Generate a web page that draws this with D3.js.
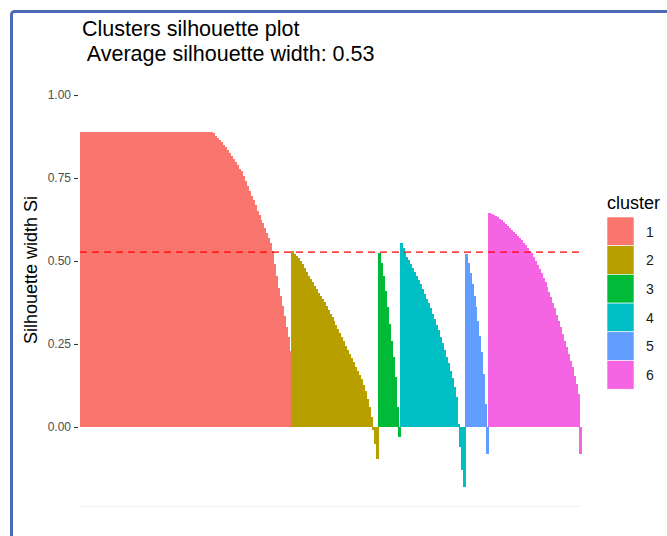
<!DOCTYPE html>
<html>
<head>
<meta charset="utf-8">
<script src="https://cdnjs.cloudflare.com/ajax/libs/d3/7.8.5/d3.min.js"></script>
<style>
    body { margin: 0; background: #fff; }
    svg { display: block; font-family: "Liberation Sans", Arial, sans-serif; }
</style>
</head>
<body>
<svg id="viz" width="667" height="536"></svg>
<script>
// Silhouette width of each observation, sorted inside each cluster
var cluster_1 = [
    0.89, 0.89, 0.89, 0.89, 0.89, 0.89, 0.89, 0.89, 0.89, 0.89,
    0.89, 0.89, 0.89, 0.89, 0.89, 0.89, 0.89, 0.89, 0.89, 0.89,
    0.89, 0.89, 0.89, 0.89, 0.89, 0.89, 0.89, 0.89, 0.89, 0.89,
    0.89, 0.89, 0.89, 0.89, 0.89, 0.89, 0.89, 0.89, 0.89, 0.89,
    0.89, 0.89, 0.89, 0.89, 0.89, 0.89, 0.89, 0.89, 0.89, 0.89,
    0.89, 0.89, 0.89, 0.89, 0.89, 0.89, 0.89, 0.89, 0.89, 0.89,
    0.89, 0.89, 0.89, 0.89, 0.89, 0.89,
    0.89, 0.885, 0.878, 0.87, 0.864, 0.857, 0.85, 0.843, 0.835, 0.826,
    0.816, 0.807, 0.798, 0.788, 0.778, 0.77, 0.755, 0.74, 0.725, 0.71,
    0.695, 0.685, 0.668, 0.652, 0.64, 0.625, 0.614, 0.598, 0.583, 0.568,
    0.554, 0.53, 0.49, 0.455, 0.42, 0.395, 0.365, 0.335, 0.3, 0.27, 0.23
];
var cluster_2 = [
    0.53, 0.52, 0.515, 0.508, 0.5, 0.49, 0.478, 0.466, 0.455, 0.445,
    0.436, 0.426, 0.416, 0.405, 0.395, 0.386, 0.376, 0.365, 0.353, 0.341,
    0.33, 0.318, 0.306, 0.294, 0.282, 0.27, 0.258, 0.245, 0.232, 0.22,
    0.207, 0.195, 0.182, 0.17, 0.157, 0.145, 0.128, 0.108, 0.085, 0.06,
    0.03, -0.01, -0.05, -0.095
];
var cluster_3 = [0.525, 0.495, 0.455, 0.41, 0.36, 0.31, 0.26, 0.21, 0.15, 0.06, -0.03];
var cluster_4 = [
    0.555, 0.54, 0.525, 0.512, 0.503, 0.49, 0.478, 0.466, 0.454, 0.443,
    0.43, 0.415, 0.4, 0.387, 0.373, 0.357, 0.341, 0.325, 0.308, 0.292,
    0.272, 0.252, 0.232, 0.212, 0.193, 0.17, 0.147, 0.12, 0.09, 0.01,
    -0.06, -0.13, -0.18
];
var cluster_5 = [0.52, 0.495, 0.465, 0.43, 0.395, 0.36, 0.32, 0.275, 0.225, 0.16, 0.07, -0.08];
var cluster_6 = [
    0.645, 0.643, 0.64, 0.636, 0.632, 0.627, 0.622, 0.617, 0.611, 0.605,
    0.599, 0.593, 0.587, 0.581, 0.575, 0.569, 0.562, 0.555, 0.547, 0.539,
    0.531, 0.523, 0.512, 0.5, 0.488, 0.476, 0.464, 0.45, 0.436, 0.421,
    0.406, 0.392, 0.375, 0.357, 0.338, 0.319, 0.3, 0.28, 0.26, 0.24,
    0.22, 0.2, 0.18, 0.155, 0.13, 0.1, -0.08
];

var cluster_names = ["1", "2", "3", "4", "5", "6"];
var cluster_colors = ["#F8766D", "#B79F00", "#00BA38", "#00BFC4", "#619CFF", "#F564E3"];
var y_ticks = [0, 0.25, 0.5, 0.75, 1];
var average_width = 0.527;

var plot_title = "Clusters silhouette plot";
var plot_subtitle = " Average silhouette width: 0.53";
var y_title = "Silhouette width Si";


function collect_observations() {
    var all_clusters = [cluster_1, cluster_2, cluster_3, cluster_4, cluster_5, cluster_6];
    var observations = [];

    all_clusters.forEach(function (values, index) {
        values.forEach(function (value) {
            observations.push({
                "id": observations.length,
                "cluster": cluster_names[index],
                "width": value
            });
        });
    });

    return observations;
}


function draw_chart(observations) {
    var svg = d3.select("#viz");

    var left = 80, right = 581, top = 95, bottom = 427;

    // frame of the screenshot (blue border on top and left)
    svg.append("rect")
        .attr("x", 11.5).attr("y", 11.5)
        .attr("width", 700).attr("height", 600)
        .attr("rx", 3)
        .attr("fill", "none")
        .attr("stroke", "#4c6ab4")
        .attr("stroke-width", 3);

    var x = d3.scaleBand()
        .domain(observations.map(function (d) { return d.id; }))
        .range([left, right])
        .padding(0);

    var y = d3.scaleLinear()
        .domain([0, 1])
        .range([bottom, top]);

    var color = d3.scaleOrdinal()
        .domain(cluster_names)
        .range(cluster_colors);

    // faint bottom line of the panel
    svg.append("line")
        .attr("x1", left).attr("x2", right)
        .attr("y1", y(-0.238) + 0.5).attr("y2", y(-0.238) + 0.5)
        .attr("stroke", "#f2f2f2");

    // crisp edges + 1px overlap so neighbouring bars show no seams
    svg.append("g")
        .attr("shape-rendering", "crispEdges")
        .selectAll("rect")
        .data(observations)
        .enter().append("rect")
        .attr("x", function (d) { return Math.round(x(d.id)); })
        .attr("width", Math.ceil(x.bandwidth()) + 1)
        .attr("y", function (d) { return Math.min(y(d.width), y(0)); })
        .attr("height", function (d) { return Math.abs(y(d.width) - y(0)); })
        .attr("fill", function (d) { return color(d.cluster); });

    // average silhouette width
    svg.append("line")
        .attr("x1", left).attr("x2", right)
        .attr("y1", y(average_width)).attr("y2", y(average_width))
        .attr("stroke", "#FF0000")
        .attr("stroke-width", 1.3)
        .attr("stroke-dasharray", "7,5");

    var y_axis = svg.append("g")
        .attr("transform", "translate(" + (left - 2) + ",0)")
        .call(d3.axisLeft(y)
            .tickValues(y_ticks)
            .tickFormat(d3.format(".2f"))
            .tickSize(4)
            .tickPadding(3));

    y_axis.select(".domain").remove();
    y_axis.selectAll(".tick line").attr("stroke", "#333").attr("stroke-width", 1.1);
    y_axis.selectAll(".tick text")
        .attr("fill", "#4D4D4D")
        .style("font-size", "12px")
        .style("font-family", "Liberation Sans, Arial, sans-serif");

    svg.append("text")
        .attr("transform", "translate(37," + ((top + bottom) / 2 + 9) + ") rotate(-90)")
        .attr("text-anchor", "middle")
        .style("font-size", "18px")
        .text(y_title);

    svg.append("text")
        .attr("x", 82).attr("y", 36)
        .style("font-size", "21.5px")
        .text(plot_title);

    svg.append("text")
        .attr("x", 82).attr("y", 61)
        .attr("xml:space", "preserve")
        .style("white-space", "pre")
        .style("font-size", "21.5px")
        .text(plot_subtitle);

    draw_legend(svg, color);
}


function draw_legend(svg, color) {
    var legend = svg.append("g")
        .attr("transform", "translate(607,0)");

    legend.append("text")
        .attr("x", 0).attr("y", 209)
        .style("font-size", "18px")
        .text("cluster");

    var key = legend.selectAll("g.key")
        .data(cluster_names)
        .enter().append("g")
        .attr("class", "key")
        .attr("transform", function (d, i) { return "translate(0," + (217 + i * 28.7) + ")"; });

    key.append("rect")
        .attr("width", 27).attr("height", 28.7)
        .attr("fill", function (d) { return color(d); })
        .attr("stroke", "#fff")
        .attr("stroke-width", 0.6);

    key.append("text")
        .attr("x", 39).attr("y", 19.5)
        .style("font-size", "14px")
        .attr("fill", "#1a1a1a")
        .text(function (d) { return d; });
}


draw_chart(collect_observations());
</script>
</body>
</html>
